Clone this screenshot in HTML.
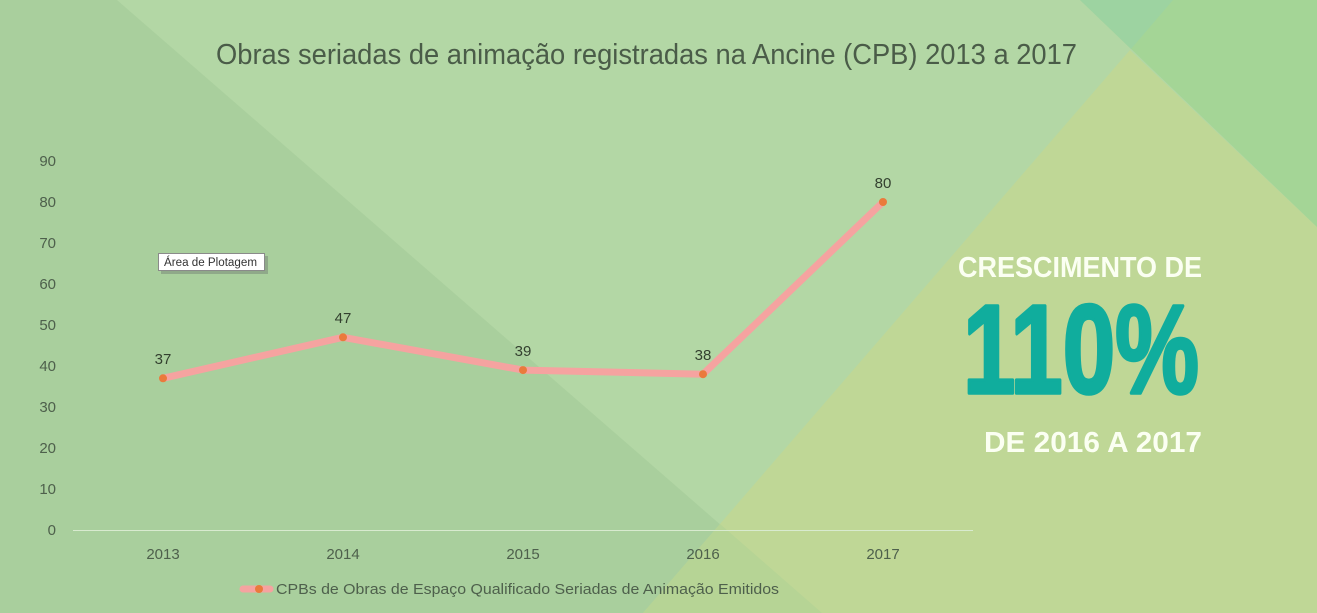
<!DOCTYPE html>
<html>
<head>
<meta charset="utf-8">
<style>
  html,body{margin:0;padding:0;width:1317px;height:613px;overflow:hidden;background:#b3d7a5;}
  svg{display:block;}
  text{font-family:"Liberation Sans", Arial, sans-serif;}
</style>
</head>
<body>
<svg width="1317" height="613" viewBox="0 0 1317 613" xmlns="http://www.w3.org/2000/svg">
  <!-- background -->
  <rect x="0" y="0" width="1317" height="613" fill="#b3d7a5"/>
  <polygon points="0,0 117,0 822,613 0,613" fill="#a9cf9d"/>
  <polygon points="643,613 1130,50 1317,227 1317,613" fill="#bfd796"/>
  <polygon points="720,524 822,613 643,613" fill="#b6d495"/>
  <polygon points="1080,0 1317,0 1317,227" fill="#a4d596"/>
  <polygon points="1080,0 1173,0 1131,49" fill="#9dd3a1"/>

  <!-- title -->
  <text x="216" y="64" font-size="29" fill="#4a5c48" textLength="861" lengthAdjust="spacingAndGlyphs">Obras seriadas de animação registradas na Ancine (CPB) 2013 a 2017</text>

  <!-- y axis labels -->
  <g font-size="15" fill="#4e604c" text-anchor="end">
    <text x="56" y="535">0</text>
    <text x="56" y="494">10</text>
    <text x="56" y="453">20</text>
    <text x="56" y="412">30</text>
    <text x="56" y="371">40</text>
    <text x="56" y="330">50</text>
    <text x="56" y="289">60</text>
    <text x="56" y="248">70</text>
    <text x="56" y="207">80</text>
    <text x="56" y="166">90</text>
  </g>

  <!-- axis line -->
  <line x1="73" y1="530.5" x2="973" y2="530.5" stroke="#d8eacf" stroke-width="1"/>

  <!-- x labels -->
  <g font-size="15" fill="#4e604c" text-anchor="middle">
    <text x="163" y="559">2013</text>
    <text x="343" y="559">2014</text>
    <text x="523" y="559">2015</text>
    <text x="703" y="559">2016</text>
    <text x="883" y="559">2017</text>
  </g>

  <!-- series -->
  <polyline points="163,378.3 343,337.3 523,370.1 703,374.2 883,202" fill="none" stroke="#f5a3a0" stroke-width="7" stroke-linejoin="round" stroke-linecap="round"/>
  <g fill="#ea7a3c">
    <circle cx="163" cy="378.3" r="4"/>
    <circle cx="343" cy="337.3" r="4"/>
    <circle cx="523" cy="370.1" r="4"/>
    <circle cx="703" cy="374.2" r="4"/>
    <circle cx="883" cy="202" r="4"/>
  </g>

  <!-- data labels -->
  <g font-size="15" fill="#33402f" text-anchor="middle">
    <text x="163" y="364">37</text>
    <text x="343" y="323">47</text>
    <text x="523" y="356">39</text>
    <text x="703" y="360">38</text>
    <text x="883" y="188">80</text>
  </g>

  <!-- tooltip -->
  <rect x="161" y="256" width="107" height="18" fill="#7f8f7c" opacity="0.6"/>
  <rect x="158.5" y="253.5" width="106" height="17" fill="#ffffff" stroke="#8a8a8a" stroke-width="1"/>
  <text x="164" y="266" font-size="11.5" fill="#333333" textLength="93" lengthAdjust="spacingAndGlyphs">Área de Plotagem</text>

  <!-- legend -->
  <line x1="243" y1="589" x2="270" y2="589" stroke="#f5a3a0" stroke-width="7" stroke-linecap="round"/>
  <circle cx="259" cy="589" r="4" fill="#ea7a3c"/>
  <text x="276" y="594" font-size="15" fill="#4e604c" textLength="503" lengthAdjust="spacingAndGlyphs">CPBs de Obras de Espaço Qualificado Seriadas de Animação Emitidos</text>

  <!-- right callout -->
  <text x="958" y="277" font-size="29" font-weight="bold" fill="#fbfff2" textLength="244" lengthAdjust="spacingAndGlyphs">CRESCIMENTO DE</text>
  <text x="963" y="393" font-size="126" font-weight="bold" fill="#10ad9d" stroke="#10ad9d" stroke-width="3.5" stroke-linejoin="round" font-family="Liberation Sans Narrow, Liberation Sans, sans-serif" textLength="236" lengthAdjust="spacingAndGlyphs">110%</text>
  <text x="984" y="452" font-size="29" font-weight="bold" fill="#fbfff2" textLength="218" lengthAdjust="spacingAndGlyphs">DE 2016 A 2017</text>
</svg>
</body>
</html>
